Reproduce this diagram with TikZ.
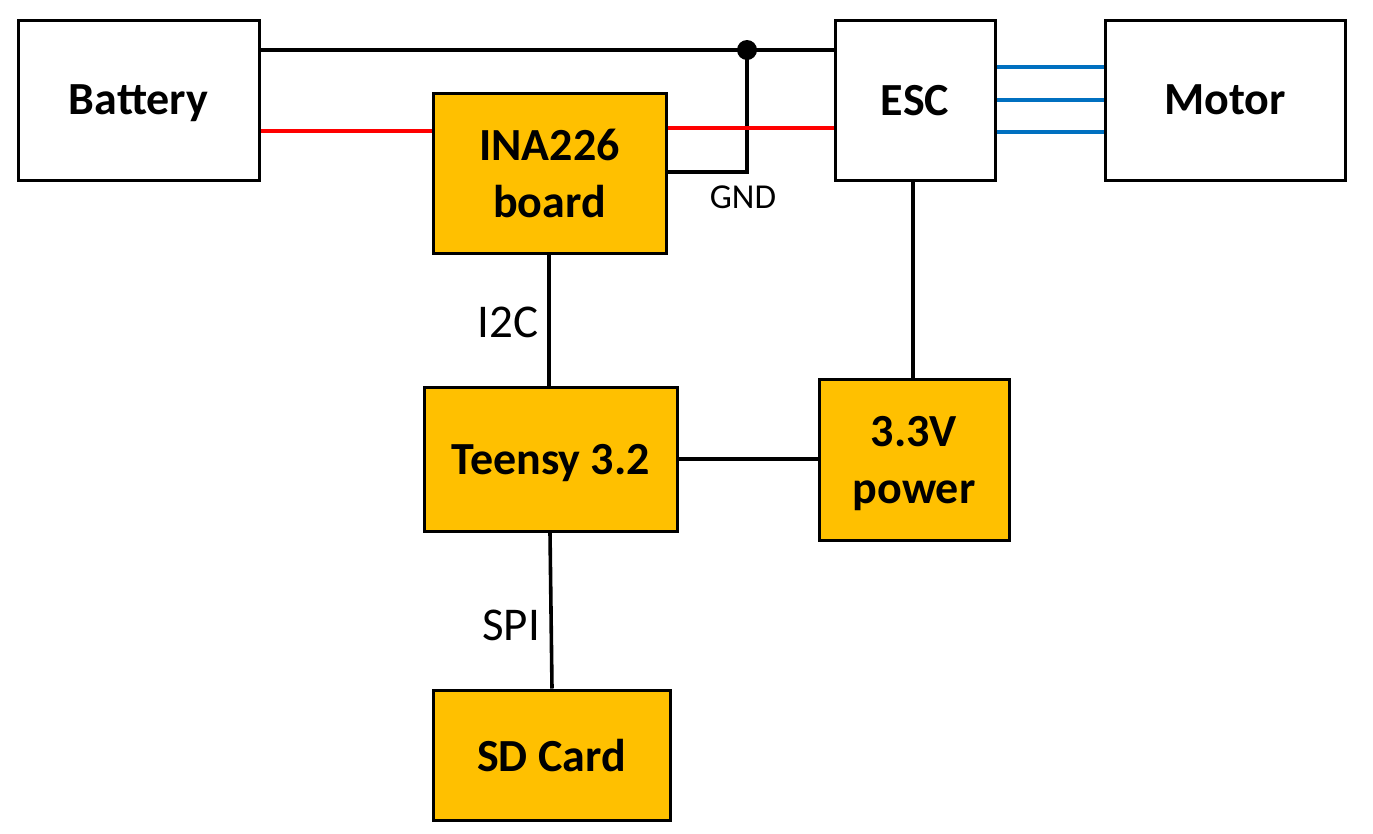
\documentclass[tikz,border=0pt]{standalone}
\usepackage{fontspec}
\setmainfont{Carlito}
\definecolor{boxorange}{HTML}{FFC000}
\definecolor{wireblue}{HTML}{0070C0}
\definecolor{wirered}{HTML}{FF0000}
\begin{document}
\begin{tikzpicture}[x=1pt,y=-1pt,
  box/.style={draw=black,line width=3pt,rectangle,inner sep=0pt,align=center,
    text depth=0pt,font=\fontsize{46}{57}\selectfont\bfseries},
  whitebox/.style={box,fill=white},
  orangebox/.style={box,fill=boxorange},
  wire/.style={line width=3.6pt,black},
  redwire/.style={line width=3.4pt,wirered},
  bluewire/.style={line width=3.4pt,wireblue},
  lbl/.style={inner sep=0pt,font=\fontsize{47}{50}\selectfont},
  smalllbl/.style={inner sep=0pt,font=\fontsize{35}{38}\selectfont}]
\useasboundingbox (0,0) rectangle (1373,833);

\node[whitebox,minimum width=241,minimum height=160] (bat) at (138.5,100) {Battery};
\node[whitebox,minimum width=160,minimum height=160] (esc) at (915,100) {ESC};
\node[whitebox,minimum width=240,minimum height=160] (mot) at (1225,100) {Motor};
\node[orangebox,minimum width=233,minimum height=160] (ina) at (549.5,173) {INA226\\board};
\node[orangebox,minimum width=253,minimum height=144] (tee) at (550.5,459) {Teensy 3.2};
\node[orangebox,minimum width=190,minimum height=161] (pwr) at (914,459.5) {3.3V\\power};
\node[orangebox,minimum width=237,minimum height=130] (sd) at (551.5,755) {SD Card};

% top ground wire
\coordinate (j) at (747,50);
\draw[wire] (bat.east |- j) -- (esc.west |- j);
\fill (j) circle (10);
\draw[wire] (ina.east |- 0,172) -| (j);
\node[smalllbl] (gnd) at (743,197) {GND};

% red power wires
\draw[redwire] (bat.east |- 0,131) -- (ina.west |- 0,131);
\draw[redwire] (ina.east |- 0,128) -- (esc.west |- 0,128);

% motor phases
\draw[bluewire] (esc.east |- 0,67) -- (mot.west |- 0,67);
\draw[bluewire] (esc.east |- 0,100) -- (mot.west |- 0,100);
\draw[bluewire] (esc.east |- 0,132) -- (mot.west |- 0,132);

% other connections
\draw[wire] (esc.south -| 913,0) -- (pwr.north -| 913,0);
\draw[wire] (ina.south -| 549,0) -- (tee.north -| 549,0);
\draw[wire] (tee.east) -- (pwr.west |- tee.east);
\draw[wire] (tee.south -| 550,0) -- (sd.north -| 552,0);

\node[lbl] (i2c) at (508,322) {I2C};
\node[lbl] (spi) at (511,625) {SPI};
\end{tikzpicture}
\end{document}
